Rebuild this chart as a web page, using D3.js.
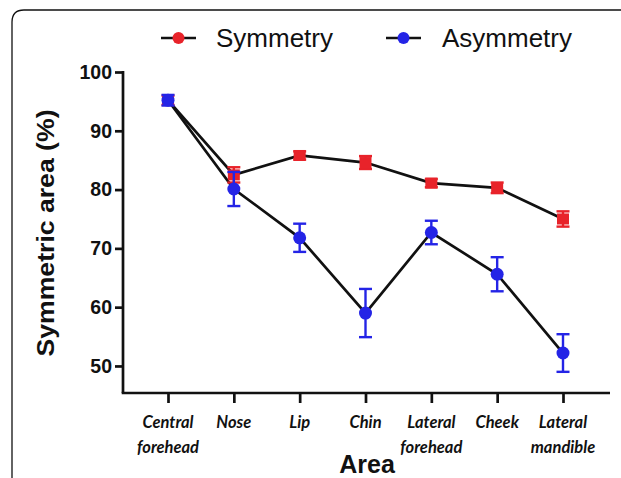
<!DOCTYPE html>
<html><head><meta charset="utf-8">
<script src="https://cdn.jsdelivr.net/npm/d3@7"></script>
<style>body{margin:0;background:#fff}svg{display:block}</style>
</head><body>
<svg id="c" width="621" height="478"></svg>
<script>
const categories = ["Central\nforehead","Nose","Lip","Chin","Lateral\nforehead","Cheek","Lateral\nmandible"];
const symmetryMean = [95.2, 82.5, 85.8, 84.6, 81.1, 80.3, 75.0];
const symmetryErr  = [0.8, 1.3, 0.7, 1.1, 0.7, 0.9, 1.3];
const asymmetryMean = [95.2, 80.1, 71.8, 59.0, 72.7, 65.6, 52.2];
const asymmetryErr  = [0.9, 2.9, 2.4, 4.1, 2.0, 2.9, 3.2];
const yTicks = [50, 60, 70, 80, 90, 100];
const seriesNames = ["Symmetry", "Asymmetry"];
const seriesColors = ["#e8232a", "#2424e6"];

const svg = d3.select("#c");
// frame
svg.append("path")
  .attr("d", "M12,478 L12,22 Q12,10 24,10 L621,10")
  .attr("fill","none").attr("stroke","#111").attr("stroke-width",1.3);

const AX = 123, AY = 393;
const x = d3.scalePoint().domain(categories).range([168, 563]);
const y = d3.scaleLinear().domain([45.4, 100]).range([AY, 72]);

// axes
const yAxis = d3.axisLeft(y).tickValues(yTicks).tickSize(8).tickSizeOuter(0).tickPadding(3);
const gy = svg.append("g").attr("transform",`translate(${AX},0)`).call(yAxis);
gy.select(".domain").attr("d", `M0,${y(100)-1}V${AY}`);
gy.selectAll("path,line").attr("stroke","#111").attr("stroke-width",2.7);
gy.selectAll("text").attr("font-family","Liberation Sans, Arial, sans-serif").attr("font-weight","bold").attr("font-size",19.5).attr("fill","#111");

const xAxis = d3.axisBottom(x).tickSize(10).tickSizeOuter(0).tickFormat("");
const gx = svg.append("g").attr("transform",`translate(0,${AY})`).call(xAxis);
gx.select(".domain").attr("d",`M${AX-1.3},0H610`);
gx.selectAll("path,line").attr("stroke","#111").attr("stroke-width",2.7);

// x labels
categories.forEach(c => {
  const lines = c.split("\n");
  const t = svg.append("text").attr("x", x(c)).attr("y", 428)
    .attr("text-anchor","middle").attr("font-family","Lato, sans-serif")
    .attr("font-style","italic").attr("font-weight","bold").attr("font-size",16.5).attr("fill","#111");
  lines.forEach((l,i) => t.append("tspan").attr("x", x(c)).attr("dy", i===0?0:25).text(l));
});

// axis titles
svg.append("text").attr("x", 367).attr("y", 473).attr("text-anchor","middle")
  .attr("font-family","Liberation Sans, Arial, sans-serif").attr("font-weight","bold").attr("font-size",25).attr("fill","#111").text("Area");
svg.append("text").attr("transform","translate(54,233) rotate(-90)").attr("text-anchor","middle")
  .attr("font-family","Liberation Sans, Arial, sans-serif").attr("font-weight","bold").attr("font-size",24)
  .attr("textLength",247).attr("lengthAdjust","spacingAndGlyphs").attr("fill","#111").text("Symmetric area (%)");

const line = d3.line().x(d => x(d.c)).y(d => y(d.v));
const series = [
  {name: seriesNames[0], color: seriesColors[0], mean: symmetryMean, err: symmetryErr, shape: "square"},
  {name: seriesNames[1], color: seriesColors[1], mean: asymmetryMean, err: asymmetryErr, shape: "circle"}
];
series.forEach(s => {
  const pts = categories.map((c,i) => ({c, v: s.mean[i], e: s.err[i]}));
  svg.append("path").datum(pts).attr("d", line).attr("fill","none").attr("stroke","#111").attr("stroke-width",2.7);
});
series.forEach(s => {
  const pts = categories.map((c,i) => ({c, v: s.mean[i], e: s.err[i]}));
  const g = svg.append("g");
  pts.forEach(p => {
    const cx = x(p.c), y0 = y(p.v + p.e), y1 = y(p.v - p.e);
    g.append("line").attr("x1",cx).attr("x2",cx).attr("y1",y0).attr("y2",y1).attr("stroke",s.color).attr("stroke-width",2.4);
    [y0,y1].forEach(yy => g.append("line").attr("x1",cx-6.5).attr("x2",cx+6.5).attr("y1",yy).attr("y2",yy).attr("stroke",s.color).attr("stroke-width",2.4));
    if (s.shape === "square") {
      g.append("rect").attr("x",cx-6).attr("y",y(p.v)-5.5).attr("width",12).attr("height",11).attr("fill",s.color);
    } else {
      g.append("circle").attr("cx",cx).attr("cy",y(p.v)).attr("r",6.5).attr("fill",s.color);
    }
  });
});
// legend
const legX = [161, 386], legText = [216, 442];
series.forEach((s,i) => {
  svg.append("line").attr("x1",legX[i]).attr("x2",legX[i]+35).attr("y1",38).attr("y2",38).attr("stroke","#111").attr("stroke-width",2.7);
  svg.append("circle").attr("cx",legX[i]+17.5).attr("cy",38).attr("r",6).attr("fill",s.color);
  svg.append("text").attr("x",legText[i]).attr("y",46.5).attr("font-family","Liberation Sans, Arial, sans-serif")
    .attr("font-size",26).attr("fill","#111").text(s.name);
});
</script>
</body></html>
